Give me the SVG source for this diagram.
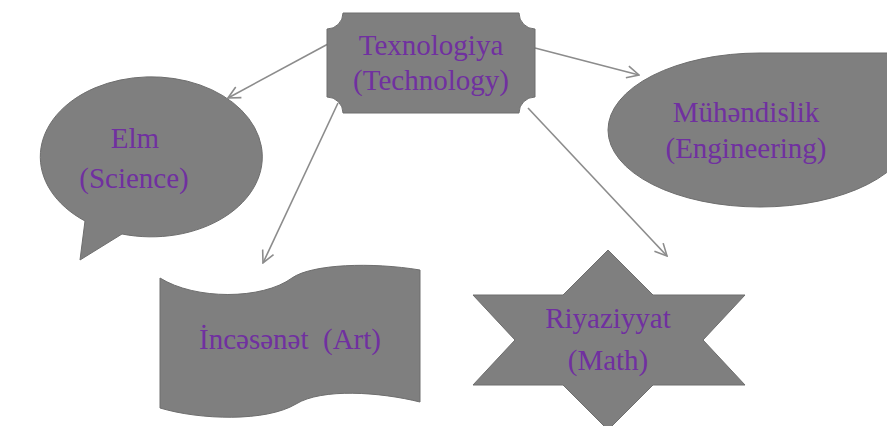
<svg xmlns="http://www.w3.org/2000/svg" width="887" height="426" viewBox="0 0 887 426">
  <defs>
    <style>
      .shape { fill: #7f7f7f; stroke: #6e6e6e; stroke-width: 1; }
      .label { font-family: "Liberation Serif", "Times New Roman", serif; font-size: 29px; fill: #7030a0; text-anchor: middle; }
      .link { stroke: #8c8c8c; stroke-width: 1.6; fill: none; marker-end: url(#open); }
    </style>
    <marker id="open" viewBox="0 0 14 14" refX="13" refY="7" markerWidth="14" markerHeight="14" markerUnits="userSpaceOnUse" orient="auto">
      <path d="M1,1 L13,7 L1,13" fill="none" stroke="#8c8c8c" stroke-width="1.6"/>
    </marker>
  </defs>
  <rect width="887" height="426" fill="#ffffff"/>

  <g id="connectors">
    <line class="link" x1="328" y1="44" x2="228" y2="98"/>
    <line class="link" x1="535" y1="48" x2="639" y2="75"/>
    <line class="link" x1="338" y1="103" x2="263" y2="263"/>
    <line class="link" x1="528" y1="108" x2="667" y2="256"/>
  </g>

  <g id="technology">
    <path class="shape" d="M343,13 L519,13 A16,16 0 0 0 535,29 L535,97 A16,16 0 0 0 519,113 L343,113 A16,16 0 0 0 327,97 L327,29 A16,16 0 0 0 343,13 Z"/>
    <text class="label" x="431" y="55">Texnologiya</text>
    <text class="label" x="431" y="90">(Technology)</text>
  </g>

  <g id="science">
    <path class="shape" d="M122,234 A111,80 0 1 0 85,221 L80,260 Z"/>
    <text class="label" x="135" y="148">Elm</text>
    <text class="label" x="134" y="188">(Science)</text>
  </g>

  <g id="engineering">
    <path class="shape" d="M608,130 A152,77 0 0 1 760,53 L912,53 L912,130 A152,77 0 0 1 760,207 A152,77 0 0 1 608,130 Z"/>
    <text class="label" x="746" y="122">Mühəndislik</text>
    <text class="label" x="746" y="158">(Engineering)</text>
  </g>

  <g id="art">
    <path class="shape" d="M160,278 C195,300 262,300 292,278 C312,264 372,262 420,270 L420,402 C380,392 322,388 296,404 C266,422 200,420 160,408 Z"/>
    <text class="label" x="290" y="349" style="white-space: pre">İncəsənət  (Art)</text>
  </g>

  <g id="math">
    <path class="shape" d="M608,250 L653,295 L745,295 L703,340 L745,385 L653,385 L608,430 L563,385 L473,385 L515,340 L473,295 L563,295 Z"/>
    <text class="label" x="608" y="328">Riyaziyyat</text>
    <text class="label" x="608" y="370">(Math)</text>
  </g>
</svg>
